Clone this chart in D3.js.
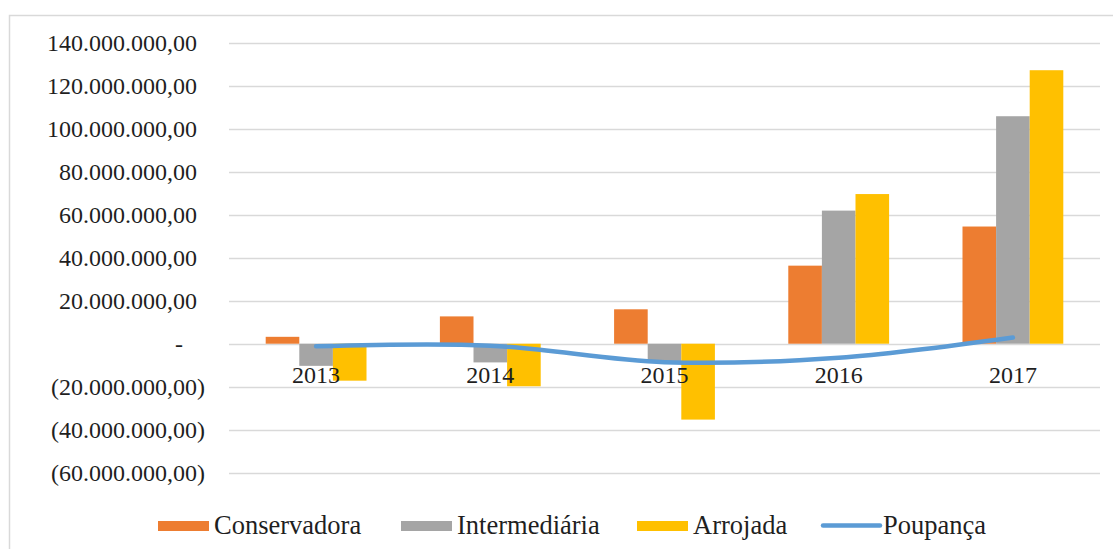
<!DOCTYPE html>
<html><head><meta charset="utf-8">
<script src="https://cdn.jsdelivr.net/npm/d3@7/dist/d3.min.js"></script>
<style>
body{margin:0;background:#fff;}
svg text{font-family:"Liberation Serif","Tinos","DejaVu Serif",serif;fill:#1f1f1f;}
</style></head>
<body><svg id="c" width="1113" height="549"></svg>
<script>
const years = ["2013","2014","2015","2016","2017"];
const seriesNames = ["Conservadora","Intermediária","Arrojada"];
const conservadora = [3.2e6, 12.7e6, 16.0e6, 36.3e6, 54.5e6];
const intermediaria = [-10.3e6, -8.7e6, -8.3e6, 61.9e6, 105.8e6];
const arrojada = [-17.2e6, -19.8e6, -35.3e6, 69.6e6, 127.2e6];
const poupanca = [-1.2e6, -0.9e6, -8.6e6, -6.5e6, 2.9e6];
const yTicks = [-60e6,-40e6,-20e6,0,20e6,40e6,60e6,80e6,100e6,120e6,140e6];
const colors = ["#ED7D31","#A5A5A5","#FFC000"];
const lineColor = "#5B9BD5";

const FONT = '"Liberation Serif","Tinos","DejaVu Serif",serif';
const svg = d3.select("#c");
const L = 229, R = 1100, T = 42.7, B = 472.7;

svg.append("rect").attr("x",9.5).attr("y",15.5).attr("width",1200).attr("height",600)
  .attr("fill","#fff").attr("stroke","#D9D9D9").attr("stroke-width",1.5);

const y = d3.scaleLinear().domain([-60e6,140e6]).range([B,T]);
const x0 = d3.scaleBand().domain(years).range([L,R]).padding(0);
const x1 = d3.scaleBand().domain(seriesNames).range([0,x0.bandwidth()]).paddingInner(0).paddingOuter(1.092);

function fmt(v){
  if (v===0) return "-";
  const s = d3.format(",.2f")(Math.abs(v)).replace(/,/g,"#").replace(".",",").replace(/#/g,".");
  return v<0 ? "("+s+")" : s;
}

// gridlines
svg.append("g").selectAll("line").data(yTicks).join("line")
  .attr("x1",L).attr("x2",R).attr("y1",d=>Math.round(y(d))+0.5).attr("y2",d=>Math.round(y(d))+0.5)
  .attr("stroke","#D9D9D9").attr("stroke-width",1.3);

// y axis
const yAxis = d3.axisLeft(y).tickValues(yTicks).tickFormat(fmt).tickSize(0).tickPadding(0);
const gy = svg.append("g").attr("transform","translate(197,0)").call(yAxis);
gy.attr("font-family",FONT);
gy.select(".domain").remove();
gy.selectAll("text").attr("font-size",24).style("font-family",FONT).attr("fill","#1f1f1f")
  .attr("x",d=> d<0 ? 8 : (d===0 ? -14 : 0));

// bars
const data = [conservadora, intermediaria, arrojada];
const groups = svg.append("g").selectAll("g").data(years).join("g")
  .attr("transform",d=>`translate(${x0(d)},0)`);
groups.selectAll("rect").data((d,i)=>seriesNames.map((s,j)=>({s, v:data[j][i], j}))).join("rect")
  .attr("x",d=>x1(d.s)).attr("width",x1.bandwidth())
  .attr("y",d=>y(Math.max(0,d.v))).attr("height",d=>Math.abs(y(d.v)-y(0)))
  .attr("fill",d=>colors[d.j]);

// category labels
const xAxis = d3.axisBottom(x0).tickSize(0).tickPadding(0);
const gx = svg.append("g").attr("transform",`translate(0,${y(0)})`).call(xAxis);
gx.attr("font-family",FONT);
gx.select(".domain").remove();
gx.selectAll("text").attr("font-size",24).style("font-family",FONT).attr("fill","#1f1f1f")
  .attr("dy",null).attr("y",39);

// line
const line = d3.line().x((d,i)=>x0(years[i])+x0.bandwidth()/2).y(d=>y(d)).curve(d3.curveCatmullRom.alpha(0.5));
svg.append("path").datum(poupanca).attr("d",line).attr("fill","none")
  .attr("stroke",lineColor).attr("stroke-width",4.5).attr("stroke-linecap","round");

// legend
const leg = svg.append("g").attr("font-family",FONT);
const items = [
  {name:"Conservadora", type:"rect", c:colors[0], x:158},
  {name:"Intermediária", type:"rect", c:colors[1], x:401},
  {name:"Arrojada", type:"rect", c:colors[2], x:637},
  {name:"Poupança", type:"line", c:lineColor, x:823}
];
items.forEach(it=>{
  if (it.type==="rect"){
    leg.append("rect").attr("x",it.x).attr("y",521).attr("width",51).attr("height",10).attr("fill",it.c);
    leg.append("text").attr("x",it.x+56).attr("y",534).attr("font-size",26.5).style("font-family",FONT).attr("fill","#1f1f1f").text(it.name);
  } else {
    leg.append("line").attr("x1",it.x).attr("x2",it.x+57).attr("y1",525.5).attr("y2",525.5)
      .attr("stroke",it.c).attr("stroke-width",4.5).attr("stroke-linecap","round");
    leg.append("text").attr("x",it.x+60).attr("y",534).attr("font-size",26.5).style("font-family",FONT).attr("fill","#1f1f1f").text(it.name);
  }
});
</script></body></html>
